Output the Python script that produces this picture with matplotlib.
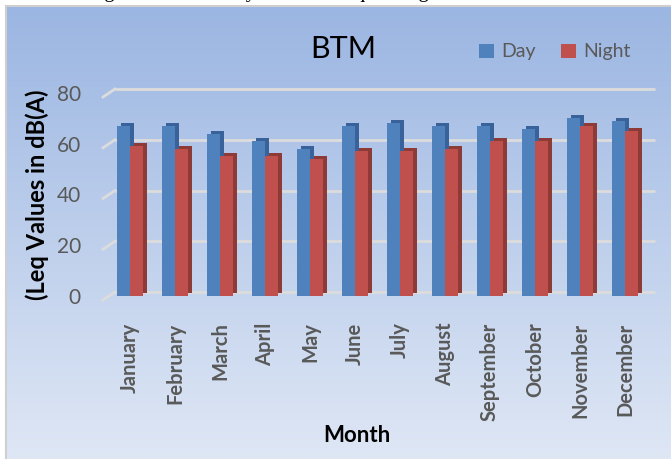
import numpy as np
import matplotlib.pyplot as plt
from matplotlib.transforms import ScaledTranslation, blended_transform_factory
from matplotlib.patches import Rectangle

plt.rcParams['font.family'] = ['Lato', 'DejaVu Sans']

# data
months = ['January', 'February', 'March', 'April', 'May', 'June',
          'July', 'August', 'September', 'October', 'November', 'December']
day = [67, 67, 64, 61, 58, 67, 68, 67, 67, 66, 70, 69]
night = [59, 58, 55, 55, 54, 57, 57, 58, 61, 61, 67, 65]
yticks = [0, 20, 40, 60, 80]

W, H = 671, 459
fig = plt.figure(figsize=(W / 100, H / 100), dpi=100)

# background gradient of the chart area
bg = fig.add_axes([7 / W, 0, 1 - 7 / W, 1 - 7 / H])
top = np.array([155, 182, 226]) / 255
bot = np.array([223, 231, 245]) / 255
t = np.linspace(0, 1, 256)[:, None]
grad = top * (1 - t) + bot * t
bg.imshow(grad[:, None, :], aspect='auto', extent=[0, 1, 0, 1])
bg.set_axis_off()
fig.patches.append(Rectangle((6 / W, -0.01), 1, 1 - 6 / H + 0.01,
                             transform=fig.transFigure, fill=False,
                             edgecolor='#cfcfcf', linewidth=1.5))

# clipped caption at the very top, only the descenders show
fig.text(87 / W, 1 + 3.5 / H, 'Figure 3.6: Monthly trend of Leq at Sargam Hawa Station',
         family='Liberation Serif', fontsize=15, va='baseline', ha='left', color='black')

# main axes
left, right, base, y80 = 110, 660, 296, 93
ax = fig.add_axes([left / W, (H - base) / H, (right - left) / W, (base - y80) / H])
ax.set_facecolor('none')
for s in ax.spines.values():
    s.set_visible(False)

x = np.arange(len(months))
step = 45.0
ax.set_xlim((left - 130) / step, (right - 130) / step)
ax.set_ylim(0, 80)

# back wall gridlines with short diagonal from the front
pxu = (base - y80) / 80.0
off = 4 / pxu
bl = blended_transform_factory(ax.transAxes, ax.transData)
for v in yticks:
    ax.plot([5 / 550, 545 / 550], [v + off, v + off], transform=bl, color='#dcdcdc',
            lw=2, zorder=0, clip_on=False, solid_capstyle='butt')
    ax.plot([-7 / 550, 5 / 550], [v - off, v + off], transform=bl, color='#dcdcdc',
            lw=2, zorder=0, clip_on=False)

w = 0.29
depth = ScaledTranslation(4 / 100, 3 / 100, fig.dpi_scale_trans)
ax.bar(x - w / 2, day, w, color='#39629a', zorder=1, transform=ax.transData + depth)
ax.bar(x + w / 2, night, w, color='#8e3a37', zorder=1, transform=ax.transData + depth)
b1 = ax.bar(x - w / 2, day, w, color='#4f81bd', zorder=2, label='Day')
b2 = ax.bar(x + w / 2, night, w, color='#c0504d', zorder=2, label='Night')

ax.set_yticks(yticks)
ax.set_yticklabels([str(v) for v in yticks], fontsize=15, color='#595959')
ax.set_xticks(x)
ax.set_xticklabels(months, rotation=90, fontsize=14.5, fontweight='bold', color='#595959')
ax.tick_params(axis='y', length=0, pad=21)
ax.tick_params(axis='x', length=0, pad=19)

fig.text(37 / W, 1 - 195 / H, '(Leq Values in dB(A)', rotation=90, fontsize=17,
         fontweight='bold', ha='center', va='center')
fig.text(357 / W, 1 - 435 / H, 'Month', fontsize=16, fontweight='bold',
         ha='center', va='center')
fig.text(343 / W, 1 - 49 / H, 'BTM', fontsize=22, ha='center', va='center')

fig.legend(handles=[b1, b2], loc='center', bbox_to_anchor=(555 / W, 1 - 52 / H),
           ncol=2, frameon=False, fontsize=14, labelcolor='#595959',
           handlelength=0.75, handleheight=0.75, handletextpad=0.4, columnspacing=1.3)

fig.savefig('out.png', dpi=100)
